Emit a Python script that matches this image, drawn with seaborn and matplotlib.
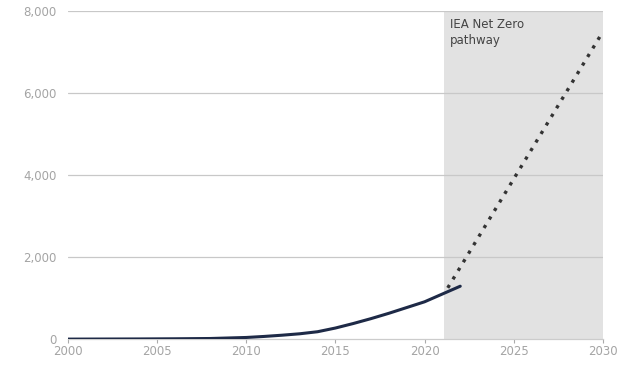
import matplotlib
matplotlib.use("Agg")
import matplotlib.pyplot as plt
import seaborn as sns
import pandas as pd
from matplotlib.ticker import FuncFormatter

years = [2000, 2002, 2004, 2006, 2008, 2010, 2011, 2012, 2013, 2014, 2015, 2016, 2017, 2018, 2019, 2020, 2021, 2022]
values = [0, 2, 4, 8, 15, 40, 65, 95, 130, 180, 270, 380, 500, 630, 770, 910, 1100, 1290]
nz_years = [2021.3, 2030]
nz_values = [1250, 7500]
x_ticks = [2000, 2005, 2010, 2015, 2020, 2025, 2030]
y_ticks = [0, 2000, 4000, 6000, 8000]
label_text = "IEA Net Zero\npathway"

sns.set_theme(style="white")
plt.rcParams['font.family'] = ['DejaVu Sans']

fig = plt.figure(figsize=(6.34, 3.69), dpi=100)
ax = fig.add_axes([0.107, 0.081, 0.844, 0.889])

ax.axvspan(2021.1, 2030, color="#e2e2e2", zorder=0, lw=0)
for yt in y_ticks[1:]:
    ax.axhline(yt, color="#c8c8c8", lw=0.9, zorder=1)

df = pd.DataFrame({"year": years, "value": values})
dfn = pd.DataFrame({"year": nz_years, "value": nz_values})
sns.lineplot(data=df, x="year", y="value", ax=ax, color="#1e2a47", lw=2.2, zorder=3)
sns.lineplot(data=dfn, x="year", y="value", ax=ax, color="#333333", lw=2.4,
             linestyle=(0, (1.0, 2.0)), zorder=3)

ax.set_xlim(2000, 2030)
ax.set_ylim(0, 8000)
ax.set_xticks(x_ticks)
ax.set_yticks(y_ticks)
ax.yaxis.set_major_formatter(FuncFormatter(lambda v, p: f"{int(v):,}"))
ax.set_xlabel("")
ax.set_ylabel("")
for s in ["top", "right", "left"]:
    ax.spines[s].set_visible(False)
ax.spines["bottom"].set_color("#cccccc")
ax.spines["bottom"].set_linewidth(0.9)
ax.tick_params(axis="x", colors="#aaaaaa", labelsize=8.5, length=3, width=0.8, pad=1, bottom=True)
ax.tick_params(axis="y", colors="#aaaaaa", labelsize=8.5, length=0, pad=8)
for lab in ax.get_xticklabels() + ax.get_yticklabels():
    lab.set_color("#a4a4a4")

ax.text(2021.4, 7830, label_text, fontsize=8.5, color="#444444", va="top", ha="left", linespacing=1.3)

fig.savefig("out.png", dpi=100)
